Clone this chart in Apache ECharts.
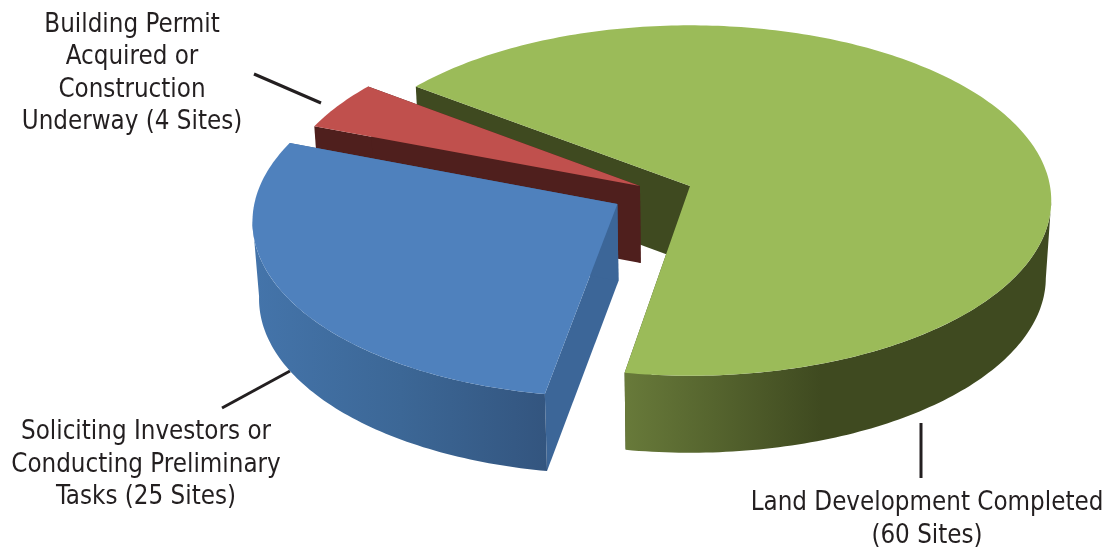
<!DOCTYPE html>
<html><head><meta charset="utf-8">
<style>html,body{margin:0;padding:0;background:#fff}#c{width:1110px;height:550px}</style>
<script src="https://cdn.jsdelivr.net/npm/echarts@6/dist/echarts.min.js"></script>
</head><body><div id="c"></div>
<script>
const categories = ['Land Development Completed', 'Building Permit Acquired or Construction Underway', 'Soliciting Investors or Conducting Preliminary Tasks'];
const sites = [60, 4, 25];
const labels = ['Land Development Completed\n(60 Sites)', 'Building Permit\nAcquired or\nConstruction\nUnderway (4 Sites)', 'Soliciting Investors or\nConducting Preliminary\nTasks (25 Sites)'];

const total = sites.reduce((a, b) => a + b, 0);
const START_DEG = 459.6;
const CX = 690, CY = 186, RX = 360, RY = 174, K = 0.083, DEPTH = 77, BOTTOM_SCALE = 0.985;
const FONT = '25.7px "DejaVu Sans Condensed", "DejaVu Sans", sans-serif';
const looks = [
  { top: '#9bbb59', wall: '#3f4a20', ex: 0, ey: 0,
    rim: { x: 625, x2: 1050, from: 365, to: null, stops: [[0, '#687a3a'], [0.46, '#3f4a20'], [1, '#3f4a20']] } },
  { top: '#c0504d', wall: '#4f1f1d', ex: -0.139, ey: 0, rim: null },
  { top: '#4f81bd', wall: '#3c6698', ex: -0.2, ey: 0.102,
    rim: { x: 255, x2: 546, from: null, to: 175, stops: [[0, '#4474aa'], [0.5, '#3c6796'], [1, '#33557f']] } }
];
function project(px, py) {
  const f = 1 / (1 - K * py);
  return [CX + RX * px * f, CY + RY * py * f];
}
function lower(p) {
  return [CX + (p[0] - CX) * BOTTOM_SCALE, p[1] + DEPTH];
}
function arc(a0, a1, look) {
  const pts = [], n = Math.max(2, Math.ceil(Math.abs(a1 - a0)));
  for (let i = 0; i <= n; i++) {
    const a = (a0 + (a1 - a0) * i / n) * Math.PI / 180;
    pts.push(project(look.ex + Math.cos(a), look.ey + Math.sin(a)));
  }
  return pts;
}
function renderItem(params, api) {
  const idx = params.dataIndex, look = looks[idx];
  let before = 0;
  for (let i = 0; i < idx; i++) before += sites[i];
  const aStart = START_DEG - before / total * 360;
  const aEnd = aStart - api.value(0) / total * 360;
  const apex = project(look.ex, look.ey);
  const outer = arc(aEnd, aStart, look);
  const kids = [];
  const poly = (points, fill) => kids.push({ type: 'polygon', shape: { points }, style: { fill } });
  [outer[0], outer[outer.length - 1]].forEach(p => {
    poly([p, apex, lower(apex), lower(p)], look.wall);
  });
  if (look.rim) {
    // the part of the outer face that turns toward the viewer
    const r = look.rim;
    const band = arc(r.from === null ? aEnd : r.from, r.to === null ? aStart : r.to, look);
    poly(band.concat(band.map(lower).reverse()), {
      type: 'linear', x: r.x, y: 0, x2: r.x2, y2: 0, global: true,
      colorStops: r.stops.map(s => ({ offset: s[0], color: s[1] }))
    });
  }
  poly([apex].concat(outer), look.top);
  return { type: 'group', children: kids };
}
const leaders = [
  [[921, 423], [921, 478]],
  [[254, 74], [321, 103]],
  [[222, 408], [290, 371]]
];
const labelAt = [[927, 520], [132, 74], [146, 465]];
const elements = [];
leaders.forEach(l => elements.push({ type: 'line', shape: { x1: l[0][0], y1: l[0][1], x2: l[1][0], y2: l[1][1] }, style: { stroke: '#231f20', lineWidth: 3 } }));
labels.forEach((t, i) => elements.push({ type: 'text', x: labelAt[i][0], y: labelAt[i][1], style: { text: t, font: FONT, lineHeight: 32.5, align: 'center', verticalAlign: 'middle', fill: '#231f20' } }));

const chart = echarts.init(document.getElementById('c'), null, { renderer: 'canvas' });
chart.setOption({
  backgroundColor: '#fff',
  animation: false,
  tooltip: { show: false },
  graphic: { elements },
  series: [{
    type: 'custom',
    coordinateSystem: 'none',
    renderItem,
    silent: true,
    data: categories.map((name, i) => ({ name, value: [sites[i]] }))
  }]
});
</script></body></html>
